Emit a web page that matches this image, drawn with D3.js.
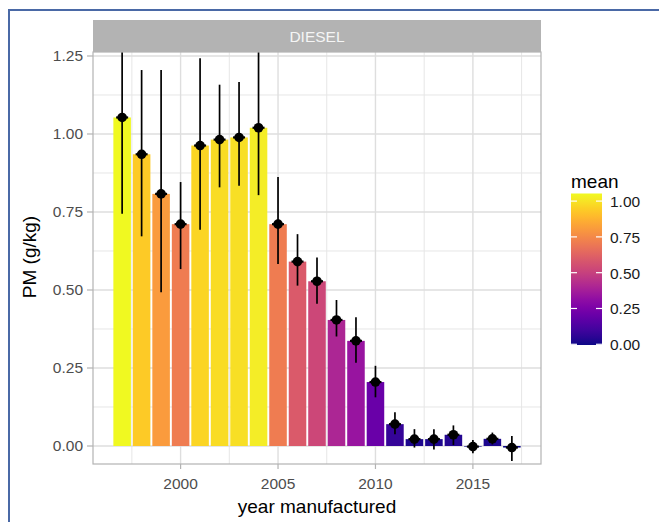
<!DOCTYPE html>
<html>
<head>
<meta charset="utf-8">
<script src="https://cdn.jsdelivr.net/npm/d3@7"></script>
<style>
  html, body { margin: 0; padding: 0; background: #fff; }
  svg { display: block; font-family: "Liberation Sans", Arial, sans-serif; }
</style>
</head>
<body>
<svg id="chart" width="659" height="522"></svg>
<script>
// PM emission factors (g/kg) for diesel vehicles, by model year
const years = [1997, 1998, 1999, 2000, 2001, 2002, 2003, 2004, 2005, 2006, 2007,
               2008, 2009, 2010, 2011, 2012, 2013, 2014, 2015, 2016, 2017];
const meanPM = [1.053, 0.935, 0.808, 0.711, 0.963, 0.982, 0.989, 1.020, 0.711, 0.591, 0.528,
                0.404, 0.337, 0.205, 0.070, 0.022, 0.022, 0.036, -0.002, 0.023, -0.005];
const lowerPM = [0.744, 0.672, 0.493, 0.567, 0.693, 0.829, 0.834, 0.804, 0.583, 0.514, 0.456,
                 0.351, 0.267, 0.156, 0.038, -0.005, -0.011, 0.003, -0.023, 0.005, -0.048];
const upperPM = [1.362, 1.205, 1.205, 0.846, 1.243, 1.158, 1.167, 1.300, 0.862, 0.679, 0.604,
                 0.468, 0.413, 0.257, 0.108, 0.054, 0.054, 0.066, 0.019, 0.043, 0.032];
const xTicks = [2000, 2005, 2010, 2015];
const xMinor = [1997.5, 2002.5, 2007.5, 2012.5, 2017.5];
const yTicks = [0, 0.25, 0.5, 0.75, 1.0, 1.25];
const yMinor = [0.125, 0.375, 0.625, 0.875, 1.125];
const legendTicks = [0, 0.25, 0.5, 0.75, 1.0];
const facetLabel = "DIESEL";

const rows = years.map((y, i) => ({ year: y, mean: meanPM[i], lo: lowerPM[i], hi: upperPM[i] }));

const svg = d3.select("#chart");
const panel = { left: 93, right: 541, top: 52, bottom: 464 };
const strip = { top: 20, bottom: 52 };

const x = d3.scaleLinear().domain([1995.505, 2018.495]).range([panel.left, panel.right]);
const y = d3.scaleLinear().domain([-0.0577, 1.2628]).range([panel.bottom, panel.top]);
const color = d3.scaleSequential(d3.interpolatePlasma).domain(d3.extent(meanPM));

// window frame
svg.append("line").attr("x1", 8).attr("x2", 659).attr("y1", 10).attr("y2", 10)
  .attr("stroke", "#4a69a6").attr("stroke-width", 2);
svg.append("line").attr("x1", 9).attr("x2", 9).attr("y1", 9).attr("y2", 522)
  .attr("stroke", "#4a69a6").attr("stroke-width", 2);

// facet strip
svg.append("rect").attr("x", panel.left).attr("y", strip.top)
  .attr("width", panel.right - panel.left).attr("height", strip.bottom - strip.top)
  .attr("fill", "#b3b3b3");
svg.append("text").attr("x", (panel.left + panel.right) / 2).attr("y", (strip.top + strip.bottom) / 2 + 5.5)
  .attr("text-anchor", "middle").attr("font-size", 15.5).attr("fill", "#f5f5f5")
  .text(facetLabel);

// grid
const grid = svg.append("g");
grid.selectAll(".ymin").data(yMinor).join("line")
  .attr("x1", panel.left).attr("x2", panel.right)
  .attr("y1", d => y(d)).attr("y2", d => y(d))
  .attr("stroke", "#e6e6e6").attr("stroke-width", 1);
grid.selectAll(".xmin").data(xMinor).join("line")
  .attr("y1", panel.top).attr("y2", panel.bottom)
  .attr("x1", d => x(d)).attr("x2", d => x(d))
  .attr("stroke", "#e6e6e6").attr("stroke-width", 1);
grid.selectAll(".ymaj").data(yTicks).join("line")
  .attr("x1", panel.left).attr("x2", panel.right)
  .attr("y1", d => y(d)).attr("y2", d => y(d))
  .attr("stroke", "#dedede").attr("stroke-width", 1.4);
grid.selectAll(".xmaj").data(xTicks).join("line")
  .attr("y1", panel.top).attr("y2", panel.bottom)
  .attr("x1", d => x(d)).attr("x2", d => x(d))
  .attr("stroke", "#dedede").attr("stroke-width", 1.4);

// clip to panel
svg.append("clipPath").attr("id", "panel-clip").append("rect")
  .attr("x", panel.left).attr("y", panel.top)
  .attr("width", panel.right - panel.left).attr("height", panel.bottom - panel.top);

const plot = svg.append("g").attr("clip-path", "url(#panel-clip)");
const barW = 0.9;

plot.selectAll(".bar").data(rows).join("rect")
  .attr("x", d => x(d.year - barW / 2))
  .attr("width", d => x(d.year + barW / 2) - x(d.year - barW / 2))
  .attr("y", d => Math.min(y(d.mean), y(0)))
  .attr("height", d => Math.abs(y(d.mean) - y(0)))
  .attr("fill", d => color(d.mean));

// point ranges
plot.selectAll(".range").data(rows).join("line")
  .attr("x1", d => x(d.year)).attr("x2", d => x(d.year))
  .attr("y1", d => y(d.lo)).attr("y2", d => y(d.hi))
  .attr("stroke", "#000").attr("stroke-width", 1.7);
plot.selectAll(".dash").data(rows).join("line")
  .attr("x1", d => x(d.year) - 6).attr("x2", d => x(d.year) + 6)
  .attr("y1", d => y(d.mean)).attr("y2", d => y(d.mean))
  .attr("stroke", "#000").attr("stroke-width", 2.2);
plot.selectAll(".pt").data(rows).join("circle")
  .attr("cx", d => x(d.year)).attr("cy", d => y(d.mean)).attr("r", 4.8)
  .attr("fill", "#000");

// panel border
svg.append("rect").attr("x", panel.left).attr("y", panel.top)
  .attr("width", panel.right - panel.left).attr("height", panel.bottom - panel.top)
  .attr("fill", "none").attr("stroke", "#b3b3b3").attr("stroke-width", 1.2);

// y axis
const yAxis = svg.append("g");
yAxis.selectAll("line").data(yTicks).join("line")
  .attr("x1", panel.left - 6).attr("x2", panel.left)
  .attr("y1", d => y(d)).attr("y2", d => y(d))
  .attr("stroke", "#b3b3b3").attr("stroke-width", 1.2);
yAxis.selectAll("text").data(yTicks).join("text")
  .attr("x", panel.left - 10).attr("y", d => y(d) + 5.5)
  .attr("text-anchor", "end").attr("font-size", 15.5).attr("fill", "#4d4d4d")
  .text(d3.format(".2f"));

// x axis
const xAxis = svg.append("g");
xAxis.selectAll("line").data(xTicks).join("line")
  .attr("x1", d => x(d)).attr("x2", d => x(d))
  .attr("y1", panel.bottom).attr("y2", panel.bottom + 5)
  .attr("stroke", "#b3b3b3").attr("stroke-width", 1.2);
xAxis.selectAll("text").data(xTicks).join("text")
  .attr("x", d => x(d)).attr("y", 488.5)
  .attr("text-anchor", "middle").attr("font-size", 15.5).attr("fill", "#4d4d4d")
  .text(d => d);

// axis titles
svg.append("text").attr("x", (panel.left + panel.right) / 2).attr("y", 513)
  .attr("text-anchor", "middle").attr("font-size", 19).attr("fill", "#000")
  .text("year manufactured");
svg.append("text")
  .attr("transform", `translate(36, ${(panel.top + panel.bottom) / 2 - 1}) rotate(-90)`)
  .attr("text-anchor", "middle").attr("font-size", 19).attr("fill", "#000")
  .text("PM (g/kg)");

// colour legend
const lg = { x: 571, w: 31 };
const [cMin, cMax] = color.domain();
const ly = d3.scaleLinear().domain([cMin, cMax]).range([345, 193.5]);
const defs = svg.append("defs");
const grad = defs.append("linearGradient").attr("id", "mean-grad")
  .attr("x1", 0).attr("x2", 0).attr("y1", 1).attr("y2", 0);
d3.range(0, 1.0001, 0.05).forEach(t => {
  grad.append("stop").attr("offset", t).attr("stop-color", d3.interpolatePlasma(t));
});
svg.append("text").attr("x", lg.x).attr("y", 188).attr("font-size", 19).attr("fill", "#000")
  .text("mean");
svg.append("rect").attr("x", lg.x).attr("y", ly(cMax))
  .attr("width", lg.w).attr("height", ly(cMin) - ly(cMax))
  .attr("fill", "url(#mean-grad)");
const lt = svg.append("g");
lt.selectAll(".tl").data(legendTicks).join("line")
  .attr("x1", lg.x).attr("x2", lg.x + 6)
  .attr("y1", d => ly(d)).attr("y2", d => ly(d))
  .attr("stroke", "#fff").attr("stroke-width", 1.2);
lt.selectAll(".tr").data(legendTicks).join("line")
  .attr("x1", lg.x + lg.w - 6).attr("x2", lg.x + lg.w)
  .attr("y1", d => ly(d)).attr("y2", d => ly(d))
  .attr("stroke", "#fff").attr("stroke-width", 1.2);
lt.selectAll("text").data(legendTicks).join("text")
  .attr("x", 610).attr("y", d => ly(d) + 6)
  .attr("font-size", 15.5).attr("fill", "#1a1a1a")
  .text(d3.format(".2f"));
</script>
</body>
</html>
